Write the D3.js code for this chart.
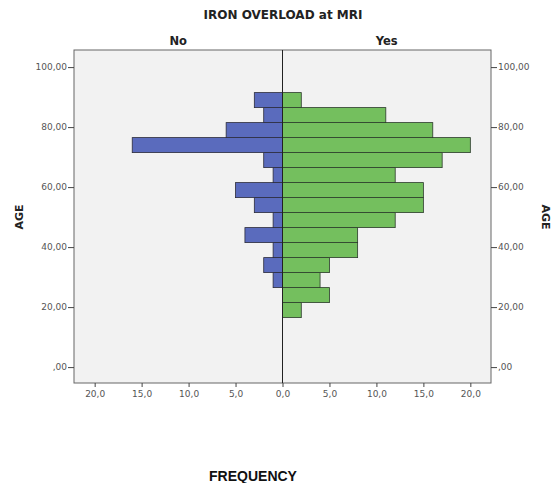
<!DOCTYPE html>
<html>
<head>
<meta charset="utf-8">
<script src="https://cdn.jsdelivr.net/npm/d3@7"></script>
<style>
  body { margin: 0; background: #fff; }
  text { font-family: "DejaVu Sans", Verdana, sans-serif; }
</style>
</head>
<body>
<script>
// age bins of 5 years, starting at 16.5 (lowest bin first)
const binStarts = [16.5, 21.5, 26.5, 31.5, 36.5, 41.5, 46.5, 51.5, 56.5, 61.5, 66.5, 71.5, 76.5, 81.5, 86.5];
const noCounts  = [0, 0, 1, 2, 1, 4, 1, 3, 5, 1, 2, 16, 6, 2, 3];
const yesCounts = [2, 5, 4, 5, 8, 8, 12, 15, 15, 12, 17, 20, 16, 11, 2];
const ageTicks = [0, 20, 40, 60, 80, 100];
const freqTicks = [0, 5, 10, 15, 20];
const binWidth = 5;

function main(){
    const width = 552;
    const height = 483;
    const left = 74, right = 491, top = 50, bottom = 383, mid = 282.5;

    const svg = d3.select("body").append("svg")
        .attr("width", width)
        .attr("height", height);

    const y = d3.scaleLinear().domain([-5.3, 105.7]).range([bottom, top]);
    const xNo = d3.scaleLinear().domain([0, 22.2]).range([mid, left]);
    const xYes = d3.scaleLinear().domain([0, 22.2]).range([mid, right]);

    svg.append("rect")
        .attr("x", left).attr("y", top)
        .attr("width", right - left).attr("height", bottom - top)
        .attr("fill", "#f2f2f2");

    const rows = binStarts.map((b, i) => ({start: b, no: noCounts[i], yes: yesCounts[i]}));

    svg.selectAll(".no")
        .data(rows.filter(d => d.no > 0))
        .enter().append("rect")
        .attr("class", "no")
        .attr("x", d => xNo(d.no))
        .attr("y", d => y(d.start + binWidth))
        .attr("width", d => xNo(0) - xNo(d.no))
        .attr("height", d => y(d.start) - y(d.start + binWidth))
        .attr("fill", "#5a6bbd")
        .attr("stroke", "#2b2b3a")
        .attr("stroke-width", 0.8);

    svg.selectAll(".yes")
        .data(rows.filter(d => d.yes > 0))
        .enter().append("rect")
        .attr("class", "yes")
        .attr("x", xYes(0))
        .attr("y", d => y(d.start + binWidth))
        .attr("width", d => xYes(d.yes) - xYes(0))
        .attr("height", d => y(d.start) - y(d.start + binWidth))
        .attr("fill", "#74bf5e")
        .attr("stroke", "#2b3a2b")
        .attr("stroke-width", 0.8);

    // frame and centre line
    svg.append("rect")
        .attr("x", left).attr("y", top)
        .attr("width", right - left).attr("height", bottom - top)
        .attr("fill", "none")
        .attr("stroke", "#666")
        .attr("stroke-width", 1);
    svg.append("line")
        .attr("x1", mid).attr("x2", mid)
        .attr("y1", top).attr("y2", bottom)
        .attr("stroke", "#222").attr("stroke-width", 1);

    const fmtAge = d => d === 0 ? ",00" : d3.format(".2f")(d).replace(".", ",");
    const fmtFreq = d => d3.format(".1f")(d).replace(".", ",");

    const styleAxis = g => {
        g.select(".domain").remove();
        g.selectAll(".tick line").attr("stroke", "#444");
        g.selectAll(".tick text").attr("fill", "#555").style("font-size", "9px");
    };

    svg.append("g")
        .attr("transform", `translate(${left},0)`)
        .call(d3.axisLeft(y).tickValues(ageTicks).tickFormat(fmtAge).tickSize(6).tickPadding(1))
        .call(styleAxis);
    svg.append("g")
        .attr("transform", `translate(${right},0)`)
        .call(d3.axisRight(y).tickValues(ageTicks).tickFormat(fmtAge).tickSize(6).tickPadding(1))
        .call(styleAxis);
    svg.append("g")
        .attr("transform", `translate(0,${bottom})`)
        .call(d3.axisBottom(xNo).tickValues(freqTicks).tickFormat(fmtFreq).tickSize(4).tickPadding(4))
        .call(styleAxis);
    svg.append("g")
        .attr("transform", `translate(0,${bottom})`)
        .call(d3.axisBottom(xYes).tickValues(freqTicks.slice(1)).tickFormat(fmtFreq).tickSize(4).tickPadding(4))
        .call(styleAxis);

    svg.append("text")
        .attr("x", 283).attr("y", 19)
        .attr("text-anchor", "middle")
        .style("font-size", "12px").style("font-weight", "bold")
        .attr("fill", "#222")
        .text("IRON OVERLOAD at MRI");
    svg.append("text")
        .attr("x", (left + mid) / 2).attr("y", 45)
        .attr("text-anchor", "middle")
        .style("font-size", "11.5px").style("font-weight", "bold")
        .attr("fill", "#222")
        .text("No");
    svg.append("text")
        .attr("x", (mid + right) / 2).attr("y", 45)
        .attr("text-anchor", "middle")
        .style("font-size", "11.5px").style("font-weight", "bold")
        .attr("fill", "#222")
        .text("Yes");

    svg.append("text")
        .attr("transform", "translate(23,217) rotate(-90)")
        .attr("text-anchor", "middle")
        .style("font-size", "11px").style("font-weight", "bold")
        .attr("fill", "#222")
        .text("AGE");
    svg.append("text")
        .attr("transform", "translate(542,217) rotate(90)")
        .attr("text-anchor", "middle")
        .style("font-size", "11px").style("font-weight", "bold")
        .attr("fill", "#222")
        .text("AGE");

    svg.append("text")
        .attr("x", 253).attr("y", 481)
        .attr("text-anchor", "middle")
        .style("font-family", "'Liberation Sans', Arial, sans-serif")
        .style("font-size", "14px").style("font-weight", "bold")
        .attr("fill", "#111")
        .text("FREQUENCY");
}
main();
</script>
</body>
</html>
